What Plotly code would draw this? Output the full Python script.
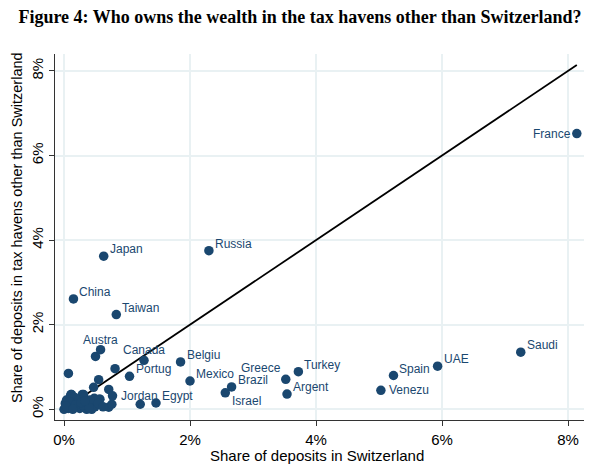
import plotly.graph_objects as go

# Labelled countries: share of deposits in Switzerland (%), share in other havens (%)
countries = ["France", "Saudi", "UAE", "Spain", "Venezu", "Turkey", "Argent", "Greece",
             "Brazil", "Israel", "Mexico", "Belgiu", "Egypt", "Jordan", "Portug", "Canada",
             "Austra", "Taiwan", "China", "Japan", "Russia"]
swiss = [8.14, 7.25, 5.93, 5.23, 5.03, 3.72, 3.54, 3.52,
         2.66, 2.56, 2.00, 1.85, 1.46, 0.77, 1.04, 1.27,
         0.58, 0.83, 0.15, 0.63, 2.30]
other = [6.52, 1.35, 1.02, 0.80, 0.45, 0.89, 0.36, 0.71,
         0.53, 0.39, 0.67, 1.12, 0.15, 0.32, 0.78, 1.16,
         1.41, 2.24, 2.61, 3.62, 3.75]
# label placement (clock position as in the original figure)
label_clock = [9, 2, 2, 2, 3, 2, 2, 11, 2, 4, 2, 2, 2, 3, 2, 12, 12, 2, 2, 2, 2]

# Unlabelled countries
swiss_small = [1.21, 0.50, 0.81, 0.07, 0.55, 0.47, 0.71, 0.71, 0.57, 0.48, 0.31, 0.11,
               0.12, 0.29, 0.56, 0.49, 0.36, 0.41, 0.20, 0.02, 0.00, 0.07, 0.15, 0.25,
               0.31, 0.10, 0.17, 0.04, 0.36, 0.44, 0.54, 0.76, 0.62, 0.22, 0.05, 0.12,
               0.30, 0.40, 0.09, 0.18, 0.27, 0.03, 0.14, 0.33]
other_small = [0.12, 1.25, 0.96, 0.85, 0.70, 0.52, 0.47, 0.05, 0.24, 0.26, 0.35, 0.35,
               0.35, 0.35, 0.24, 0.06, 0.14, 0.22, 0.18, 0.14, 0.00, 0.02, 0.06, 0.02,
               0.28, 0.30, 0.28, 0.22, 0.00, 0.00, 0.14, 0.12, 0.06, 0.08, 0.06, 0.12,
               0.10, 0.04, 0.18, 0.10, 0.16, 0.08, 0.00, 0.20]

ticks = [0, 2, 4, 6, 8]
tick_text = ["0%", "2%", "4%", "6%", "8%"]

navy = "#1a476f"
grid = "#e9f1f3"
sans = "Liberation Sans, Arial"

fig = go.Figure()
line_end = max(swiss)
fig.add_trace(go.Scatter(x=[0, line_end], y=[0, line_end], mode="lines",
                         line=dict(color="black", width=1.8), hoverinfo="skip"))
fig.add_trace(go.Scatter(x=swiss_small, y=other_small, mode="markers",
                         marker=dict(color=navy, size=9.5)))
fig.add_trace(go.Scatter(x=swiss, y=other, mode="markers",
                         marker=dict(color=navy, size=9.5)))

clock_style = {
    2: dict(xanchor="left", xshift=5, yshift=7),
    3: dict(xanchor="left", xshift=7, yshift=0),
    4: dict(xanchor="left", xshift=6, yshift=-8),
    9: dict(xanchor="right", xshift=-5, yshift=0),
    11: dict(xanchor="right", xshift=-4, yshift=11),
    12: dict(xanchor="center", xshift=0, yshift=10),
}
for name, xv, yv, c in zip(countries, swiss, other, label_clock):
    fig.add_annotation(x=xv, y=yv, text=name, showarrow=False, yanchor="middle",
                       borderpad=0,
                       font=dict(color=navy, size=12, family=sans), **clock_style[c])

# axis titles
fig.add_annotation(xref="paper", yref="paper", x=0.495, y=-0.098, text="Share of deposits in Switzerland",
                   showarrow=False, xanchor="center", yanchor="middle",
                   font=dict(size=15, color="black", family=sans))
fig.add_annotation(xref="paper", yref="paper", x=-0.072, y=0.527, textangle=-90,
                   text="Share of deposits in tax havens other than Switzerland",
                   showarrow=False, xanchor="center", yanchor="middle",
                   font=dict(size=14.5, color="black", family=sans))

axis_common = dict(tickvals=ticks, ticktext=tick_text, showgrid=True, gridcolor=grid,
                   gridwidth=1.5, zeroline=False, showline=True, linecolor="#333333",
                   linewidth=1.2, ticks="outside", ticklen=5, tickcolor="#333333",
                   automargin=False,
                   tickfont=dict(size=15, color="black", family=sans))

# page has an 8px body margin, so the figure is 8px smaller than the window
fig.update_layout(
    width=592, height=458,
    margin=dict(l=47, r=16, t=46, b=46),
    paper_bgcolor="white", plot_bgcolor="white",
    showlegend=False,
    title=dict(text="<b>Figure 4: Who owns the wealth in the tax havens other than Switzerland?</b>",
               x=0.4932, xanchor="center", y=0.981, yanchor="middle",
               font=dict(family="Liberation Serif, DejaVu Serif", size=18, color="black")),
    xaxis=dict(range=[-0.143, 8.254], ticklabelstandoff=1, **axis_common),
    yaxis=dict(range=[-0.252, 8.4], tickangle=-90, **axis_common),
)

fig.write_html("out.html")
